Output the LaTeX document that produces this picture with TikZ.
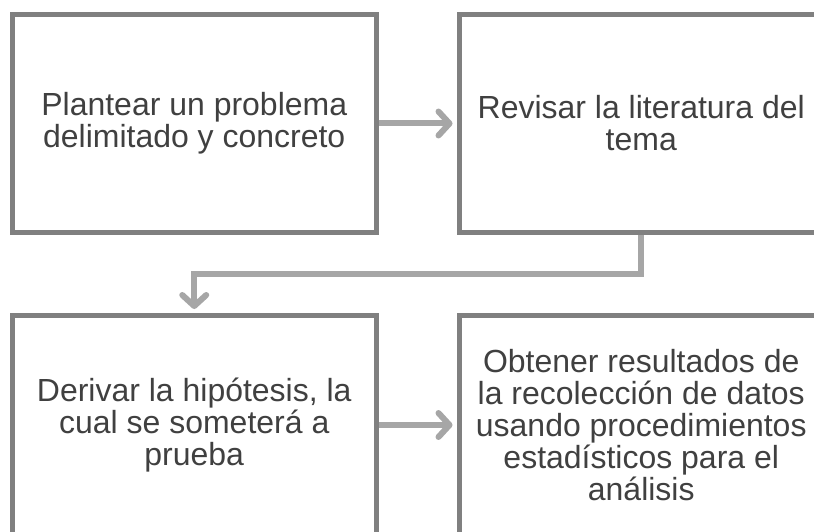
\documentclass[tikz,border=0pt]{standalone}
\usepackage{fontspec}
\setmainfont{Liberation Sans}
\usetikzlibrary{arrows.meta}
\definecolor{boxcol}{HTML}{808080}
\definecolor{arrcol}{HTML}{A6A6A6}
\definecolor{txtcol}{HTML}{404040}
\tikzset{
  stepbox/.style={draw=boxcol, line width=5bp, rectangle, minimum width=363.5bp,
    minimum height=218bp, inner sep=0pt, align=center, text=txtcol,
    font=\fontsize{32.1}{32.2}\selectfont},
  flowarr/.style={draw=arrcol, line width=6bp,
    -{Straight Barb[length=11bp, width=24bp, line cap=round, line join=round]},
    shorten >=4.5bp}
}
\begin{document}
\begin{tikzpicture}[x=1bp,y=-1bp]
\useasboundingbox (0,0) rectangle (814,532);
\clip (0,0) rectangle (814,532);
\fill[white] (0,0) rectangle (814,532);
\node[stepbox] (a) at (194.25,123.5) {Plantear un problema\\delimitado y concreto};
\node[stepbox] (b) at (641.25,123.5) {Revisar la literatura del\\tema};
\node[stepbox] (c) at (194.25,425) {Derivar la hipótesis, la\\cual se someterá a\\prueba};
\node[stepbox] (d) at (641.25,425) {Obtener resultados de\\la recolección de datos\\usando procedimientos\\estadísticos para el\\análisis};
\draw[flowarr] (a.east) -- (b.west);
\draw[flowarr] (c.east) -- (d.west);
\coordinate (m) at (641.25,274.5);
\draw[flowarr] (b.south) -- (m) -| (c.north);
\end{tikzpicture}
\end{document}
